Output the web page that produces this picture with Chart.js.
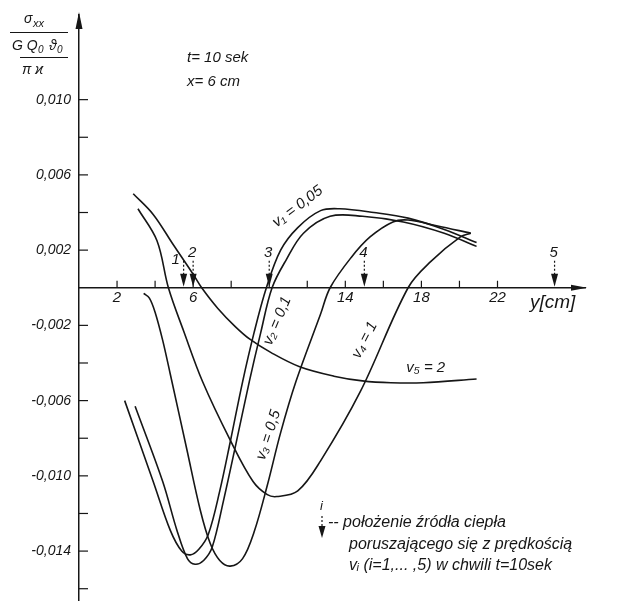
<!DOCTYPE html>
<html>
<head>
<meta charset="utf-8">
<script src="https://cdn.jsdelivr.net/npm/chart.js@4"></script>
<style>
html, body { margin: 0; padding: 0; background: #fff; }
canvas { display: block; }
</style>
</head>
<body>
<canvas id="myChart" width="624" height="601"></canvas>
<script>
// y [cm] and sigma_xx / (G Q0 theta0 / pi kappa)
var v1X = [2.4, 3.9, 4.8, 5.4, 5.85, 6.3, 6.8, 7.4, 7.95, 8.6, 9.2, 9.85, 10.6, 11.5, 12.7, 13.7, 15.5, 17.3, 19.2, 20.9];
var v1Y = [-0.0060, -0.0103, -0.0129, -0.0140, -0.0142, -0.0139, -0.0131, -0.0108, -0.0082, -0.0050, -0.0024, 0.0000, 0.0020, 0.0032, 0.0041, 0.0042, 0.0040, 0.0037, 0.0031, 0.0024];

var v2X = [2.95, 4.4, 5.15, 5.7, 6.1, 6.55, 7.0, 7.6, 8.25, 8.95, 9.55, 10.15, 10.9, 11.8, 13.2, 14.9, 17.05, 19.2, 20.9];
var v2Y = [-0.0063, -0.0103, -0.0129, -0.0144, -0.0147, -0.0145, -0.0138, -0.0113, -0.0083, -0.0050, -0.0024, 0.0000, 0.0015, 0.0029, 0.0038, 0.0038, 0.0035, 0.0029, 0.0022];

var v3X = [3.4, 3.7, 4.0, 4.4, 4.8, 5.67, 6.37, 6.9, 7.4, 7.95, 8.6, 9.2, 9.9, 10.6, 11.4, 12.7, 13.2, 14.3, 15.3, 16.5, 17.3, 18.8, 20.6];
var v3Y = [-0.0003, -0.00055, -0.0013, -0.0028, -0.0046, -0.0086, -0.0118, -0.0136, -0.0145, -0.0148, -0.0144, -0.0130, -0.0105, -0.0077, -0.0050, -0.0014, 0.0000, 0.0016, 0.0027, 0.0035, 0.0036, 0.0033, 0.0029];

var v4X = [3.1, 4.1, 4.7, 5.5, 6.5, 7.95, 9.15, 9.9, 10.4, 11.5, 12.7, 14.8, 17.3, 18.5, 20.05, 20.6];
var v4Y = [0.0042, 0.0025, 0.0000, -0.0023, -0.0050, -0.0081, -0.0103, -0.0110, -0.0111, -0.0108, -0.0092, -0.0055, 0.0000, 0.0014, 0.0027, 0.0029];

var v5X = [2.85, 3.9, 4.95, 6.0, 6.45, 7.3, 8.2, 9.0, 10.1, 11.6, 13.4, 14.9, 16.4, 18.1, 20.9];
var v5Y = [0.0050, 0.0039, 0.0023, 0.00072, 0.0000, -0.0011, -0.00205, -0.00275, -0.00345, -0.0042, -0.0047, -0.00495, -0.00505, -0.00505, -0.00485];

// heat source positions at t = 10 sek
var sourceX = [5.5, 6, 10, 15, 25];
var sourceLabels = ['1', '2', '3', '4', '5'];

var xTickValues = [2, 4, 6, 8, 10, 12, 14, 16, 18, 20, 22];
var xTickLabels = ['2', null, '6', null, null, null, '14', null, '18', null, '22'];
var yTickValues = [-0.016, -0.014, -0.012, -0.010, -0.008, -0.006, -0.004, -0.002, 0.002, 0.004, 0.006, 0.008, 0.010];
var yTickLabels = [null, '-0,014', null, '-0,010', null, '-0,006', null, '-0,002', '0,002', null, '0,006', null, '0,010'];

// curve labels: text, x, y, angle (deg)
var curveLabels = [
  ['v\u2081 = 0,05', 10.4, 0.0032, -37],
  ['v\u2082 = 0,1', 10.1, -0.0031, -67],
  ['v\u2083 = 0,5', 9.75, -0.0092, -72],
  ['v\u2084 = 1', 14.75, -0.0038, -63],
  ['v\u2085 = 2', 17.2, -0.0045, 0]
];

var FONT = "'Liberation Sans Narrow', 'Liberation Sans', 'DejaVu Sans', sans-serif";
var INK = '#161616';

function pts(xs, ys) {
  return xs.map(function(x, i) { return {x: x, y: ys[i]}; });
}

function curve(xs, ys) {
  return {
    data: pts(xs, ys),
    showLine: true,
    borderColor: INK,
    borderWidth: 1.6,
    pointRadius: 0,
    fill: false,
    tension: 0.35
  };
}

function line(ctx, x1, y1, x2, y2) {
  ctx.beginPath();
  ctx.moveTo(x1, y1);
  ctx.lineTo(x2, y2);
  ctx.stroke();
}

var decor = {
  id: 'decor',
  afterDraw: function(chart) {
    var ctx = chart.ctx;
    var xs = chart.scales.x, ys = chart.scales.y, area = chart.chartArea;
    var x0 = xs.getPixelForValue(0), y0 = ys.getPixelForValue(0);
    ctx.save();
    ctx.strokeStyle = INK;
    ctx.fillStyle = INK;
    ctx.lineWidth = 1.2;

    // ticks on the inner side of the axes
    yTickValues.forEach(function(v) {
      var py = ys.getPixelForValue(v);
      line(ctx, x0, py, x0 + 9, py);
    });
    xTickValues.forEach(function(v) {
      var px = xs.getPixelForValue(v);
      line(ctx, px, y0, px, y0 - 7);
    });

    // axis arrowheads
    ctx.beginPath();
    ctx.moveTo(x0, area.top - 3);
    ctx.lineTo(x0 - 3.5, area.top + 14);
    ctx.lineTo(x0 + 3.5, area.top + 14);
    ctx.closePath();
    ctx.fill();
    ctx.beginPath();
    ctx.moveTo(area.right + 2, y0);
    ctx.lineTo(area.right - 14, y0 - 3);
    ctx.lineTo(area.right - 14, y0 + 3);
    ctx.closePath();
    ctx.fill();

    // source position arrows
    ctx.font = 'italic 15px ' + FONT;
    ctx.textAlign = 'center';
    ctx.textBaseline = 'alphabetic';
    sourceX.forEach(function(sx, i) {
      var px = xs.getPixelForValue(sx);
      ctx.setLineDash([2, 2]);
      line(ctx, px, y0 - 27, px, y0 - 12);
      ctx.setLineDash([]);
      ctx.beginPath();
      ctx.moveTo(px - 3.5, y0 - 14);
      ctx.lineTo(px + 3.5, y0 - 14);
      ctx.lineTo(px, y0 - 1);
      ctx.closePath();
      ctx.fill();
      if (i === 0) {
        ctx.fillText(sourceLabels[i], px - 8, y0 - 24);
      } else {
        ctx.fillText(sourceLabels[i], px - 1, y0 - 31);
      }
    });

    // curve labels
    ctx.textAlign = 'left';
    curveLabels.forEach(function(c) {
      ctx.save();
      ctx.translate(xs.getPixelForValue(c[1]), ys.getPixelForValue(c[2]));
      ctx.rotate(c[3] * Math.PI / 180);
      ctx.fillText(c[0], 0, 0);
      ctx.restore();
    });

    // axis name
    ctx.font = 'italic 19px ' + FONT;
    ctx.fillText('y[cm]', area.right - 55, y0 + 20);

    // ordinate name as a fraction
    ctx.font = 'italic 14px ' + FONT;
    ctx.fillText('\u03c3', 24, 23);
    ctx.font = 'italic 11px ' + FONT;
    ctx.fillText('xx', 33, 27);
    ctx.lineWidth = 1;
    line(ctx, 10, 32.5, 68, 32.5);
    ctx.font = 'italic 14px ' + FONT;
    ctx.fillText('G Q', 12, 50);
    ctx.fillText('\u03d1', 49, 50);
    ctx.font = 'italic 10px ' + FONT;
    ctx.fillText('0', 38, 53);
    ctx.fillText('0', 57, 53);
    line(ctx, 20, 57.5, 68, 57.5);
    ctx.font = 'italic 14px ' + FONT;
    ctx.fillText('\u03c0 \u03f0', 22, 74);

    ctx.font = 'italic 15px ' + FONT;
    ctx.fillText('t= 10 sek', 187, 62);
    ctx.fillText('x= 6 cm', 187, 86);

    // key
    ctx.lineWidth = 1.2;
    ctx.setLineDash([2, 2]);
    line(ctx, 322, 516, 322, 528);
    ctx.setLineDash([]);
    ctx.beginPath();
    ctx.moveTo(318.5, 526);
    ctx.lineTo(325.5, 526);
    ctx.lineTo(322, 538);
    ctx.closePath();
    ctx.fill();
    ctx.font = 'italic 13px ' + FONT;
    ctx.fillText('i', 320, 510);
    ctx.font = 'italic 16px ' + FONT;
    ctx.fillText('-- po\u0142o\u017cenie \u017ar\u00f3d\u0142a ciep\u0142a', 328, 527);
    ctx.fillText('poruszaj\u0105cego si\u0119 z pr\u0119dko\u015bci\u0105', 349, 549);
    ctx.fillText('v\u1d62 (i=1,... ,5) w chwili t=10sek', 349, 570);
    ctx.restore();
  }
};

var ctx = document.getElementById('myChart').getContext('2d');
var chart = new Chart(ctx, {
  type: 'scatter',
  data: {
    datasets: [curve(v1X, v1Y), curve(v2X, v2Y), curve(v3X, v3Y), curve(v4X, v4Y), curve(v5X, v5Y)]
  },
  options: {
    responsive: false,
    animation: false,
    devicePixelRatio: 1,
    layout: { padding: { left: 0, right: 39, top: 15, bottom: 1 } },
    plugins: { legend: { display: false }, tooltip: { enabled: false } },
    scales: {
      x: {
        type: 'linear',
        min: 0,
        max: 26.6,
        position: { y: 0 },
        afterFit: function(scale) {
          scale.height = 0;
          scale.paddingLeft = 0;
          scale.paddingRight = 0;
        },
        grid: { drawOnChartArea: false, drawTicks: false },
        border: { color: INK, width: 1.5 },
        afterBuildTicks: function(scale) {
          scale.ticks = xTickValues.map(function(v) { return {value: v}; });
        },
        ticks: {
          autoSkip: false,
          maxRotation: 0,
          padding: 1,
          color: INK,
          font: { family: FONT, size: 15, style: 'italic' },
          callback: function(value, index) { return xTickLabels[index]; }
        }
      },
      y: {
        type: 'linear',
        min: -0.0166,
        max: 0.0145,
        position: 'left',
        afterFit: function(scale) {
          scale.width = 79;
          scale.paddingTop = 0;
          scale.paddingBottom = 0;
        },
        grid: { drawOnChartArea: false, drawTicks: false },
        border: { color: INK, width: 1.5 },
        afterBuildTicks: function(scale) {
          scale.ticks = yTickValues.map(function(v) { return {value: v}; });
        },
        ticks: {
          autoSkip: false,
          padding: 8,
          color: INK,
          font: { family: FONT, size: 14, style: 'italic' },
          callback: function(value, index) { return yTickLabels[index]; }
        }
      }
    }
  },
  plugins: [decor]
});
</script>
</body>
</html>
